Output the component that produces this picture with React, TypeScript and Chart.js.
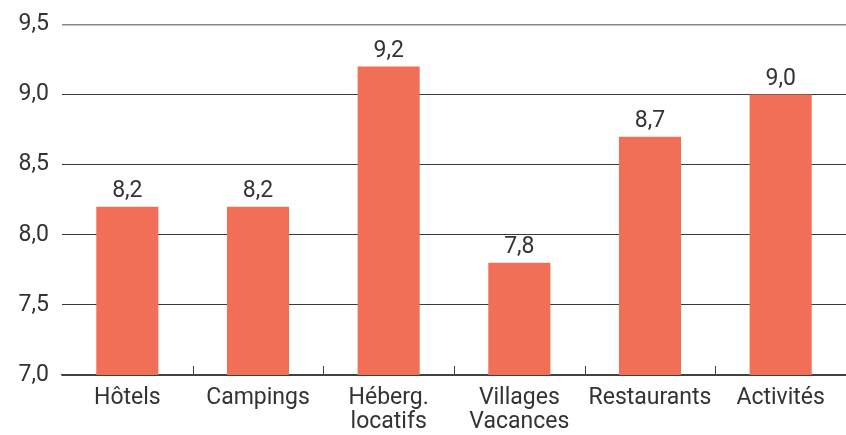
import React, { useEffect, useRef } from "react";
import { Chart, registerables } from "chart.js";

Chart.register(...registerables);

const categories: (string | string[])[] = [
  "Hôtels",
  "Campings",
  ["Héberg.", "locatifs"],
  ["Villages", "Vacances"],
  "Restaurants",
  "Activités",
];
const scores = [8.2, 8.2, 9.2, 7.8, 8.7, 9.0];
const yMin = 7.0;
const yMax = 9.5;
const yStep = 0.5;

const FONT = "Roboto, 'Noto Sans', sans-serif";
const TEXT = "#333333";
const BAR = "#F16F57";

const fmt = (v: number) => v.toFixed(1).replace(".", ",");

const valueLabels = {
  id: "valueLabels",
  afterDatasetsDraw(chart: any) {
    const ctx = chart.ctx;
    const meta = chart.getDatasetMeta(0);
    ctx.save();
    ctx.font = `23px ${FONT}`;
    ctx.fillStyle = TEXT;
    ctx.textAlign = "center";
    ctx.textBaseline = "bottom";
    meta.data.forEach((el: any, i: number) => {
      ctx.fillText(fmt(scores[i]), el.x, el.y - 4);
    });
    ctx.restore();
  },
};

const innerTicks = {
  id: "innerTicks",
  afterDatasetsDraw(chart: any) {
    const ctx = chart.ctx;
    const xs = chart.scales.x;
    const bottom = chart.chartArea.bottom;
    ctx.save();
    ctx.strokeStyle = "#444444";
    ctx.lineWidth = 1;
    for (let i = 1; i < categories.length; i++) {
      const x = Math.round((xs.getPixelForValue(i - 1) + xs.getPixelForValue(i)) / 2) + 0.5;
      ctx.beginPath();
      ctx.moveTo(x, bottom - 9);
      ctx.lineTo(x, bottom);
      ctx.stroke();
    }
    ctx.restore();
  },
};

export default function App() {
  const ref = useRef<HTMLCanvasElement>(null);
  useEffect(() => {
    document.body.style.margin = "0";
    const chart = new Chart(ref.current!, {
      type: "bar",
      data: {
        labels: categories,
        datasets: [
          {
            data: scores,
            backgroundColor: BAR,
            borderWidth: 0,
            categoryPercentage: 1,
            barPercentage: 0.475,
          },
        ],
      },
      options: {
        animation: false,
        responsive: false,
        layout: { padding: { top: 0, right: 0, left: 0, bottom: 0 } },
        plugins: { legend: { display: false }, tooltip: { enabled: false } },
        scales: {
          x: {
            grid: { display: false },
            border: { display: true, color: "#444444", width: 1.5 },
            ticks: {
              color: TEXT,
              font: { family: FONT, size: 23, lineHeight: 1.05 },
              padding: 3,
              maxRotation: 0,
              autoSkip: false,
            },
            afterFit(scale: any) {
              scale.height = 60;
            },
          },
          y: {
            min: yMin,
            max: yMax,
            border: { display: false },
            grid: {
              color: (c: any) => (c.tick && c.tick.value >= yMax ? "#888888" : "#3a3a3a"),
              lineWidth: (c: any) => (c.tick && c.tick.value >= yMax ? 1.5 : 1),
              drawTicks: false,
            },
            ticks: {
              stepSize: yStep,
              color: TEXT,
              font: { family: FONT, size: 23, lineHeight: 1.0 },
              padding: 13,
              callback: (v: any) => fmt(Number(v)),
            },
            afterFit(scale: any) {
              scale.width = 62;
            },
          },
        },
      },
      plugins: [valueLabels, innerTicks],
    });
    return () => chart.destroy();
  }, []);
  return <canvas ref={ref} width={846} height={435} style={{ display: "block" }} />;
}
